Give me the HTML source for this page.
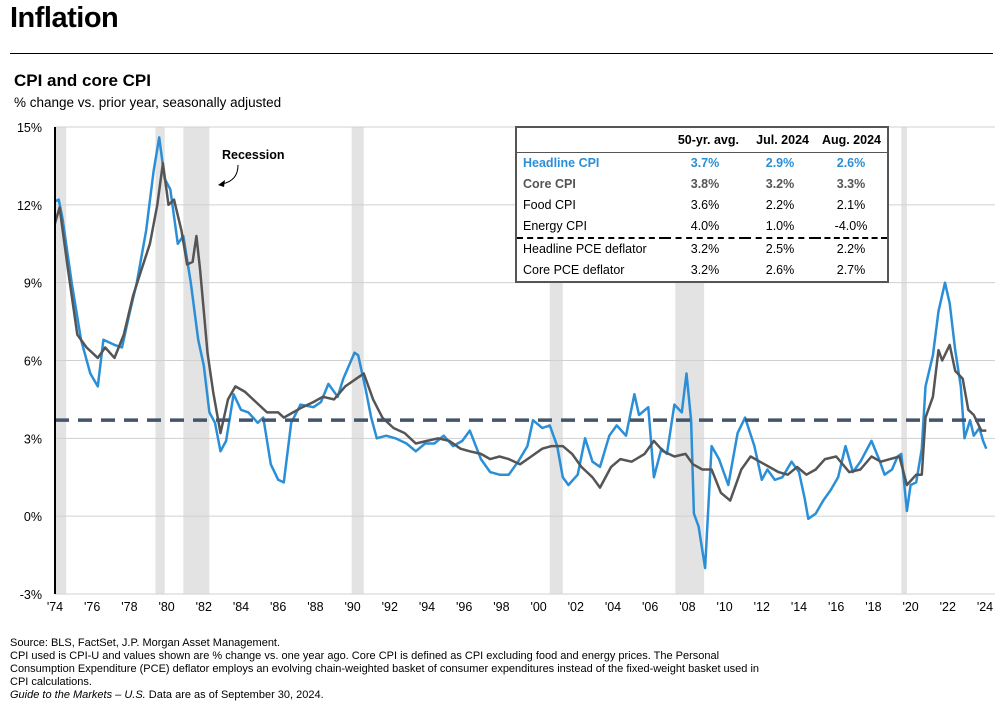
<!DOCTYPE html>
<html><head><meta charset="utf-8"><style>
body{margin:0;width:1001px;height:711px;background:#fff;font-family:"Liberation Sans",Arial,sans-serif;position:relative;overflow:hidden}
.abs{position:absolute}
table{border-collapse:collapse;font-size:12.5px;table-layout:fixed}
td{padding:0 6px;height:21px;line-height:21px;white-space:nowrap}
</style></head><body>
<div class="abs" style="left:10px;top:2px;font-size:29px;font-weight:bold;letter-spacing:-0.5px">Inflation</div>
<div class="abs" style="left:10px;top:53px;width:983px;height:1px;background:#000"></div>
<div class="abs" style="left:14px;top:71px;font-size:17px;font-weight:bold">CPI and core CPI</div>
<div class="abs" style="left:14px;top:95px;font-size:13.5px">% change vs. prior year, seasonally adjusted</div>
<svg class="abs" style="left:0;top:0" width="1001" height="711">
<defs><clipPath id="pc"><rect x="55" y="120" width="935" height="480"/></clipPath></defs>
<g id="bands" clip-path="url(#pc)"></g><g id="grid"></g><g id="lines" clip-path="url(#pc)"></g><g id="axes"></g>
</svg>
<div class="abs" style="left:222px;top:148px;font-size:12.5px;font-weight:bold">Recession</div>
<svg class="abs" style="left:214px;top:162px" width="30" height="28"><path d="M24 3 C24 14 18 20 8 22" fill="none" stroke="#000" stroke-width="1"/><path d="M4 23 L11 18 L10 25 Z" fill="#000"/></svg>
<div class="abs" style="left:515px;top:126px;width:370px;height:153px;border:2px solid #555;background:#fff;overflow:hidden">
<table style="width:100%">
<colgroup><col style="width:148px"><col style="width:80px"><col style="width:70px"><col style="width:72px"></colgroup>
<tr style="font-weight:bold"><td style="height:24px;line-height:24px"></td><td style="text-align:right">50-yr. avg.</td><td style="text-align:right">Jul. 2024</td><td style="text-align:right">Aug. 2024</td></tr>
<tr style="font-weight:bold;color:#2b8fd8;border-top:1px solid #555"><td>Headline CPI</td><td style="text-align:center">3.7%</td><td style="text-align:center">2.9%</td><td style="text-align:center">2.6%</td></tr>
<tr style="font-weight:bold;color:#555"><td>Core CPI</td><td style="text-align:center">3.8%</td><td style="text-align:center">3.2%</td><td style="text-align:center">3.3%</td></tr>
<tr><td>Food CPI</td><td style="text-align:center">3.6%</td><td style="text-align:center">2.2%</td><td style="text-align:center">2.1%</td></tr>
<tr><td>Energy CPI</td><td style="text-align:center">4.0%</td><td style="text-align:center">1.0%</td><td style="text-align:center">-4.0%</td></tr>
<tr style="border-top:2px dashed #000"><td>Headline PCE deflator</td><td style="text-align:center">3.2%</td><td style="text-align:center">2.5%</td><td style="text-align:center">2.2%</td></tr>
<tr><td>Core PCE deflator</td><td style="text-align:center">3.2%</td><td style="text-align:center">2.6%</td><td style="text-align:center">2.7%</td></tr>
</table></div>
<div class="abs" style="left:10px;top:637px;font-size:11px;line-height:13px;width:760px">Source: BLS, FactSet, J.P. Morgan Asset Management.<br>CPI used is CPI-U and values shown are % change vs. one year ago. Core CPI is defined as CPI excluding food and energy prices. The Personal Consumption Expenditure (PCE) deflator employs an evolving chain-weighted basket of consumer expenditures instead of the fixed-weight basket used in CPI calculations.<br><i>Guide to the Markets – U.S.</i> Data are as of September 30, 2024.</div>
<script>
const yTicks=[15,12,9,6,3,0,-3];
const xTickYears=[1974,1976,1978,1980,1982,1984,1986,1988,1990,1992,1994,1996,1998,2000,2002,2004,2006,2008,2010,2012,2014,2016,2018,2020,2022,2024];
const recStart=[1973.9,1980.0,1981.5,1990.55,2001.2,2007.95,2020.1];
const recEnd=[1975.2,1980.5,1982.9,1991.2,2001.9,2009.5,2020.4];
const avgHeadline=3.7;
const hYears=[1974.0,1974.2,1974.8,1975.0,1975.5,1976.0,1976.5,1976.9,1977.2,1977.8,1978.2,1978.6,1979.0,1979.5,1979.9,1980.2,1980.5,1980.8,1981.2,1981.5,1981.9,1982.3,1982.6,1982.9,1983.2,1983.5,1983.8,1984.2,1984.6,1985.0,1985.5,1985.8,1986.2,1986.6,1986.9,1987.3,1987.8,1988.5,1988.9,1989.3,1989.8,1990.1,1990.7,1990.9,1991.3,1991.6,1991.9,1992.4,1992.9,1993.5,1994.0,1994.5,1995.0,1995.5,1996.0,1996.5,1996.9,1997.5,1998.0,1998.5,1999.0,1999.5,2000.0,2000.3,2000.8,2001.2,2001.6,2001.9,2002.2,2002.7,2003.1,2003.5,2003.9,2004.4,2004.8,2005.3,2005.75,2006.0,2006.5,2006.8,2007.2,2007.5,2007.9,2008.3,2008.55,2008.8,2008.95,2009.2,2009.55,2009.9,2010.3,2010.8,2011.3,2011.7,2012.2,2012.6,2012.9,2013.3,2013.7,2014.2,2014.6,2014.9,2015.1,2015.5,2015.9,2016.3,2016.7,2017.1,2017.5,2017.9,2018.5,2018.9,2019.2,2019.6,2019.9,2020.1,2020.4,2020.6,2020.9,2021.2,2021.4,2021.8,2022.1,2022.45,2022.7,2023.0,2023.3,2023.5,2023.8,2024.0,2024.3,2024.5,2024.67];
const hVals=[10.0,12.0,12.2,11.5,9.0,6.8,5.5,5.0,6.8,6.6,6.5,7.8,9.0,11.0,13.3,14.6,13.0,12.6,10.5,10.8,9.0,6.8,5.8,4.0,3.6,2.5,2.9,4.7,4.1,4.0,3.6,3.8,2.0,1.4,1.3,3.6,4.3,4.2,4.4,5.1,4.6,5.3,6.3,6.2,4.9,3.8,3.0,3.1,3.0,2.8,2.5,2.8,2.8,3.1,2.7,2.9,3.3,2.2,1.7,1.6,1.6,2.1,2.7,3.7,3.4,3.5,2.7,1.5,1.2,1.6,3.0,2.1,1.9,3.1,3.5,3.1,4.7,3.9,4.2,1.5,2.6,2.4,4.3,4.0,5.5,3.7,0.1,-0.4,-2.0,2.7,2.2,1.2,3.2,3.8,2.7,1.4,1.8,1.4,1.5,2.1,1.7,0.7,-0.1,0.1,0.6,1.0,1.5,2.7,1.7,2.1,2.9,2.2,1.6,1.8,2.3,2.4,0.2,1.2,1.3,2.6,5.0,6.2,7.9,9.0,8.2,6.4,5.0,3.0,3.7,3.1,3.4,2.9,2.6];
const cYears=[1974.0,1974.4,1974.85,1975.3,1975.8,1976.3,1976.9,1977.3,1977.8,1978.3,1978.8,1979.2,1979.7,1980.1,1980.4,1980.7,1981.0,1981.4,1981.7,1982.0,1982.2,1982.4,1982.8,1983.1,1983.5,1983.9,1984.3,1984.8,1985.4,1986.0,1986.6,1986.9,1987.4,1987.9,1988.5,1989.0,1989.6,1990.2,1990.8,1991.2,1991.7,1992.2,1992.8,1993.4,1994.0,1994.6,1995.2,1995.8,1996.4,1996.9,1997.5,1998.0,1998.5,1999.0,1999.6,2000.2,2000.8,2001.3,2001.9,2002.4,2002.9,2003.5,2003.9,2004.5,2005.0,2005.6,2006.3,2006.8,2007.3,2007.9,2008.5,2008.9,2009.4,2009.9,2010.4,2010.9,2011.5,2012.0,2012.5,2013.0,2013.5,2014.0,2014.5,2015.0,2015.5,2016.0,2016.6,2017.3,2017.9,2018.5,2019.0,2019.5,2020.0,2020.4,2020.9,2021.2,2021.4,2021.8,2022.1,2022.3,2022.7,2023.0,2023.4,2023.7,2024.0,2024.4,2024.67];
const cVals=[9.8,10.8,11.9,9.5,7.0,6.5,6.1,6.5,6.1,7.0,8.5,9.4,10.5,12.0,13.6,12.0,12.2,11.0,9.7,9.8,10.8,9.5,6.3,4.8,3.2,4.5,5.0,4.8,4.4,4.0,4.0,3.8,4.0,4.2,4.4,4.6,4.5,5.0,5.3,5.5,4.5,3.8,3.4,3.2,2.8,2.9,3.0,2.9,2.6,2.5,2.4,2.2,2.3,2.2,2.0,2.3,2.6,2.7,2.7,2.4,1.9,1.5,1.1,1.9,2.2,2.1,2.4,2.9,2.5,2.3,2.4,2.0,1.8,1.8,0.9,0.6,1.8,2.3,2.1,1.9,1.7,1.6,1.9,1.6,1.8,2.2,2.3,1.7,1.8,2.3,2.1,2.2,2.3,1.2,1.6,1.6,3.8,4.6,6.4,6.0,6.6,5.6,5.3,4.1,3.9,3.3,3.3];
const X0=55,X1=985,Y0=127,Y1=594,XOFF=0.6;
function xS(yr){return X0+(yr-1974-XOFF)/50*(X1-X0);}
function yS(v){return Y1-(v-(-3))/(15-(-3))*(Y1-Y0);}
const NS='http://www.w3.org/2000/svg';
function mk(tag,attrs,parent){const e=document.createElementNS(NS,tag);for(const k in attrs)e.setAttribute(k,attrs[k]);document.getElementById(parent).appendChild(e);return e;}
recStart.forEach((s,i)=>{const r=mk('rect',{x:xS(s),y:Y0,width:xS(recEnd[i])-xS(s),height:Y1-Y0,fill:'#e3e3e3'},'bands');

});
yTicks.forEach(t=>{const l=mk('line',{x1:X0,x2:X1+10,y1:yS(t),y2:yS(t),stroke:'#d0d0d0','stroke-width':1},'grid');


const tx=mk('text',{x:42,y:yS(t)+5,'text-anchor':'end','font-size':12.5,'font-family':'Liberation Sans, sans-serif'},'axes');tx.textContent=t+'%';

});
xTickYears.forEach(y=>{const tx=mk('text',{x:xS(y+XOFF),y:611,'text-anchor':'middle','font-size':12.5,'font-family':'Liberation Sans, sans-serif'},'axes');tx.textContent="'"+String(y).slice(2);

});
const ax=mk('line',{x1:X0,x2:X0,y1:Y0,y2:Y1,stroke:'#000','stroke-width':2},'axes');


function path(xs,vs){return xs.map((x,i)=>(i?'L':'M')+xS(x).toFixed(1)+' '+yS(vs[i]).toFixed(1)).join(' ');}
const hl=mk('path',{d:path(hYears,hVals),fill:'none',stroke:'#2b8fd8','stroke-width':2.5,'stroke-linejoin':'round'},'lines');


const cl=mk('path',{d:path(cYears,cVals),fill:'none',stroke:'#555','stroke-width':2.5,'stroke-linejoin':'round'},'lines');


const al=mk('line',{x1:X0,x2:X1,y1:yS(avgHeadline),y2:yS(avgHeadline),stroke:'#44546a','stroke-width':3.5,'stroke-dasharray':'14 9'},'lines');


</script>
</body></html>
